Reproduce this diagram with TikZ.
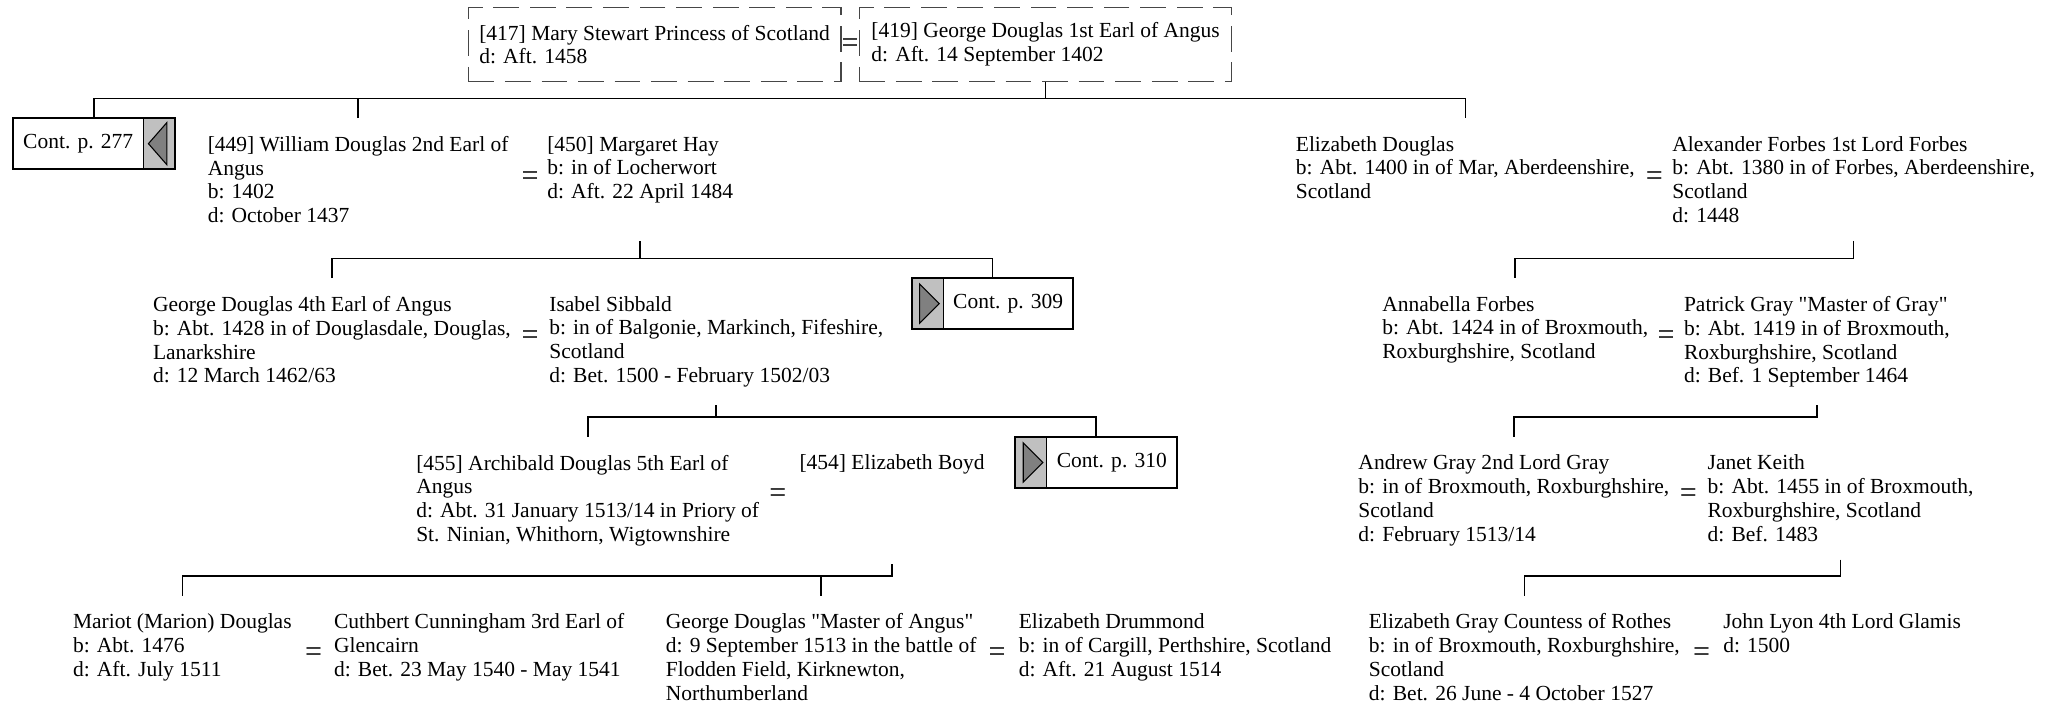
\documentclass[tikz,border=0pt]{standalone}
\usepackage{fontspec}
\setmainfont{Liberation Serif}
\usetikzlibrary{positioning,fit}
\definecolor{tabgrey}{RGB}{192,192,192}
\definecolor{markgrey}{RGB}{128,128,128}
\definecolor{boxline}{RGB}{70,70,70}
\newcommand\persfont{\fontsize{10pt}{11.1pt}\selectfont}

\begin{document}
\begin{tikzpicture}[x=0.61pt, y=-0.61pt, line width=0.75pt, font=\persfont,
  person/.style={align=left, inner xsep=0pt, inner ysep=8pt},
  wed/.style={font=\fontsize{14pt}{14pt}\selectfont, inner sep=0pt},
  dashbox/.style={draw=boxline, line width=0.6pt, dash pattern=on 12pt off 5pt, minimum width=173.2pt, minimum height=34.2pt, align=left, inner sep=0pt},
  contbody/.style={minimum width=60.5pt, minimum height=23.8pt, inner sep=0pt, outer sep=0pt},
  conttab/.style={fill=tabgrey, draw, line width=0.5pt, minimum width=14.6pt, minimum height=23.8pt, inner sep=0pt, outer sep=0pt},
  contframe/.style={draw, line width=0.9pt, inner sep=0pt},
  trimark/.style={fill=markgrey, draw, line width=0.5pt}]
  \useasboundingbox (0,0) rectangle (1568,536);
  % levels of the bars
  \coordinate (bar0) at (0,75);
  \coordinate (bar1) at (0,197);
  \coordinate (bar2) at (0,318);
  \coordinate (bar3) at (0,439);

  % top couple
  \node[dashbox] (p417) at (499,34) {[417] Mary Stewart Princess of Scotland\\d: Aft. 1458};
  \node[dashbox] (p419) at (797,34) {[419] George Douglas 1st Earl of Angus\\d: Aft. 14 September 1402};
  \node[wed] (w0) at (648,35) {=};

  % first generation
  \node[contbody, anchor=north west] (c277) at (10,90) {Cont. p. 277};
  \node[conttab, right=0pt of c277] (c277tab) {};
  \node[contframe, fit=(c277)(c277tab)] (c277box) {};
  \filldraw[trimark, shift={(c277tab.center)}] (-8,0) -- (6,-16) -- (6,16) -- cycle;
  \node[person, anchor=north] (p449) at (273,90) {[449] William Douglas 2nd Earl of\\Angus\\b: 1402\\d: October 1437};
  \node[wed] (w1) at (404,136) {=};
  \node[person, anchor=north] (p450) at (488,90) {[450] Margaret Hay\\b: in of Locherwort\\d: Aft. 22 April 1484};
  \node[person, anchor=north] (elizd) at (1117,90) {Elizabeth Douglas\\b: Abt. 1400 in of Mar, Aberdeenshire,\\Scotland};
  \node[wed] (w1b) at (1261,136) {=};
  \node[person, anchor=north] (forbes) at (1413,90) {Alexander Forbes 1st Lord Forbes\\b: Abt. 1380 in of Forbes, Aberdeenshire,\\Scotland\\d: 1448};

  % second generation
  \node[person, anchor=north] (george4) at (253,212) {George Douglas 4th Earl of Angus\\b: Abt. 1428 in of Douglasdale, Douglas,\\Lanarkshire\\d: 12 March 1462/63};
  \node[wed] (w2) at (404,257) {=};
  \node[person, anchor=north] (isabel) at (546,212) {Isabel Sibbald\\b: in of Balgonie, Markinch, Fifeshire,\\Scotland\\d: Bet. 1500 - February 1502/03};
  \node[conttab, anchor=north west] (c309tab) at (695,212) {};
  \node[contbody, right=0pt of c309tab] (c309) {Cont. p. 309};
  \node[contframe, fit=(c309tab)(c309)] (c309box) {};
  \filldraw[trimark, shift={(c309tab.center)}] (9,0) -- (-6,-15) -- (-6,15) -- cycle;
  \node[person, anchor=north] (annabella) at (1155,212) {Annabella Forbes\\b: Abt. 1424 in of Broxmouth,\\Roxburghshire, Scotland};
  \node[wed] (w2b) at (1270,257) {=};
  \node[person, anchor=north] (patrick) at (1385,212) {Patrick Gray \textquotedbl Master of Gray\textquotedbl\\b: Abt. 1419 in of Broxmouth,\\Roxburghshire, Scotland\\d: Bef. 1 September 1464};

  % third generation
  \node[person, anchor=north] (archibald) at (448,333) {[455] Archibald Douglas 5th Earl of\\Angus\\d: Abt. 31 January 1513/14 in Priory of\\St. Ninian, Whithorn, Wigtownshire};
  \node[wed] (w3) at (593,378) {=};
  \node[person, anchor=north] (boyd) at (680,333) {[454] Elizabeth Boyd};
  \node[conttab, anchor=north west] (c310tab) at (774,333) {};
  \node[contbody, right=0pt of c310tab] (c310) {Cont. p. 310};
  \node[contframe, fit=(c310tab)(c310)] (c310box) {};
  \filldraw[trimark, shift={(c310tab.center)}] (9,0) -- (-6,-15) -- (-6,15) -- cycle;
  \node[person, anchor=north] (andrew) at (1154,333) {Andrew Gray 2nd Lord Gray\\b: in of Broxmouth, Roxburghshire,\\Scotland\\d: February 1513/14};
  \node[wed] (w3b) at (1287,378) {=};
  \node[person, anchor=north] (janet) at (1403,333) {Janet Keith\\b: Abt. 1455 in of Broxmouth,\\Roxburghshire, Scotland\\d: Bef. 1483};

  % fourth generation
  \node[person, anchor=north] (mariot) at (139,454) {Mariot (Marion) Douglas\\b: Abt. 1476\\d: Aft. July 1511};
  \node[wed] (w4) at (239,499) {=};
  \node[person, anchor=north west] (cuthbert) at (254,454) {Cuthbert Cunningham 3rd Earl of\\Glencairn\\d: Bet. 23 May 1540 - May 1541};
  \node[person, anchor=north] (gmaster) at (626,454) {George Douglas \textquotedbl Master of Angus\textquotedbl\\d: 9 September 1513 in the battle of\\Flodden Field, Kirknewton,\\Northumberland};
  \node[wed] (w4b) at (760,499) {=};
  \node[person, anchor=north west] (drummond) at (776,454) {Elizabeth Drummond\\b: in of Cargill, Perthshire, Scotland\\d: Aft. 21 August 1514};
  \node[person, anchor=north] (elizgray) at (1162,454) {Elizabeth Gray Countess of Rothes\\b: in of Broxmouth, Roxburghshire,\\Scotland\\d: Bet. 26 June - 4 October 1527};
  \node[wed] (w4c) at (1297,499) {=};
  \node[person, anchor=north west] (lyon) at (1313,454) {John Lyon 4th Lord Glamis\\d: 1500};

  % descent lines
  \draw (p419.south) -- (p419.south |- bar0);
  \draw (c277box.north) |- (elizd.north |- bar0) -- (elizd.north);
  \draw (p449.north) -- (p449.north |- bar0);
  \draw (p450.south |- p449.south) -- (p450.south |- bar1);
  \draw (george4.north) |- (c309box.north |- bar1) -- (c309box.north);
  \draw (forbes.south) -- (forbes.south |- bar1) -| (annabella.north);
  \draw (isabel.south) -- (isabel.south |- bar2);
  \draw (archibald.north) |- (c310box.north |- bar2) -- (c310box.north);
  \draw (patrick.south) -- (patrick.south |- bar2) -| (andrew.north);
  \draw (boyd.south |- archibald.south) -- (boyd.south |- bar3) -| (mariot.north);
  \draw (gmaster.north) -- (gmaster.north |- bar3);
  \draw (janet.south) -- (janet.south |- bar3) -| (elizgray.north);
\end{tikzpicture}
\end{document}
